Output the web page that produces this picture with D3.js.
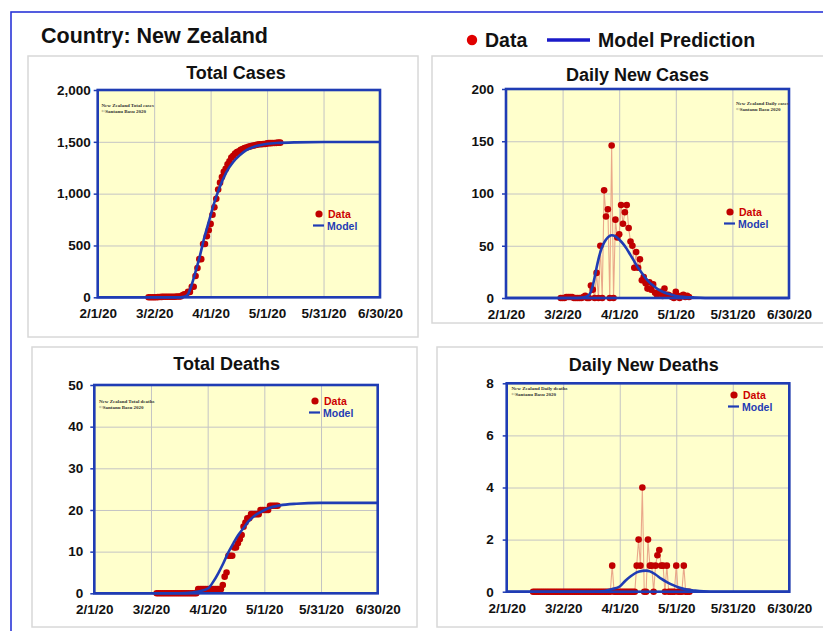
<!DOCTYPE html>
<html><head><meta charset="utf-8">
<script src="https://cdn.jsdelivr.net/npm/d3@7"></script>
<style>
body{margin:0;background:#fff;}
svg{display:block;font-family:"Liberation Sans",Arial,sans-serif;}
</style></head><body>
<svg id="c" width="823" height="631"></svg>
<script>
// ---------------- DATA ----------------
const country = "New Zealand";
const xTickDays = [0, 30, 60, 90, 120, 150];            // days since 2/1/20
const xTickLabels = ["2/1/20", "3/2/20", "4/1/20", "5/1/20", "5/31/20", "6/30/20"];
const panelTitles = ["Total Cases", "Daily New Cases", "Total Deaths", "Daily New Deaths"];
const watermarkLabels = ["Total cases", "Daily cases", "Total deaths", "Daily deaths"];

const yTicksTotalCases = [0, 500, 1000, 1500, 2000];
const yTicksDailyCases = [0, 50, 100, 150, 200];
const yTicksTotalDeaths = [0, 10, 20, 30, 40, 50];
const yTicksDailyDeaths = [0, 2, 4, 6, 8];

// Total cases, one value per day starting day 27 (2/28/20)
const totalCasesStart = 27;
const totalCases = [1,1,1,1,1,2,3,4,5,5, 5,5,5,5,6,8,8,8,20,28,
  28,52,52,102,102,205,283,368,368,514, 514,589,647,708,797,868,950,1039,1106,1160,
  1210,1239,1283,1312,1349,1366,1386,1401,1409,1422, 1431,1440,1445,1451,1456,1461,1464,1470,1473,1476,
  1477,1479,1479,1485,1487,1487,1488,1489,1490,1492, 1492];

// Daily new cases, starting day 29 (3/1/20)
const dailyCasesStart = 29;
const dailyCases = [0,0,0,1,1,1,1,0,0,0, 0,0,1,2,0,0,12,8,0,24,
  0,50,0,103,78,85,0,146,0,75, 58,61,89,71,82,89,67,54,50,29,
  44,29,37,17,20,14,9,15,8,13, 5,3,5,6,2,9,3,3,2,1, 0,6,2,0,2,3,1,2,1];

// Total deaths, starting day 33 (3/5/20)
const totalDeathsStart = 33;
const totalDeaths = [0,0,0,0,0,0,0,0,0,0, 0,0,0,0,0,0,0,0,0,0, 0,0,
  1,1,1,1,1,1,1,1,1,1,1,1,1,
  2,4,5,9,9,9,11,11,12,13, 14,16,17,18,18,19,19,19,19,19, 20,20,20,20,20,21,21,21,21,21];

// Daily new deaths, starting day 14 (2/15/20)
const dailyDeathsStart = 14;
const dailyDeaths = [0,0,0,0,0,0,0,0,0,0, 0,0,0,0,0,0,0,0,0,0, 0,0,0,0,0,0,0,0,0,0,
  0,0,0,0,0,0,0,0,0,0, 0,0,
  1,
  0,0,0,0,0,0,0,0,0,0,0,0,
  1,2,1,4,0,0,2,1,1,0, 1,1.4,1.6,1,1,0,1,0,0,0, 0,1,0,0,0,1,0,0,0];

// Model predictions (day since 2/1/20, value)
const totalCasesModelDays = [0,44,46,48,49.3,52,54.4,56.5,59,61.5,64.5,68.4,72,75.4,79,82.5,88,95,105,120,150];
const totalCasesModel     = [0,0,5,30,87,247,407,567,727,888,1048,1208,1305,1369,1420,1449,1475,1488,1495,1498,1498];

const dailyCasesModelDays = [0,38,42,44,45,46,47,48,49,50,52,54,56,58,60,62,64,66,68,70,72,74,76,78,80,83,86,90,95,100,110,150];
const dailyCasesModel     = [0,0,1,3,6,12,20,29,37,44,53,58,60,59,56,52,47,41,35,29,24,19,15,12,9,6,4,2,1,0.5,0,0];

const totalDeathsModelDays = [0,45,52,56,60.3,63,65.6,68.3,70.9,73.6,76.2,78.9,81.5,84.2,87.7,92.1,98.3,107,119.5,150];
const totalDeathsModel     = [0,0,0.2,0.5,1.2,2.8,4.8,7.2,9.8,12,14,15.6,17.2,18.4,19.4,20.4,21.1,21.5,21.7,21.7];

const dailyDeathsModelDays = [0,45,52,56,60,63,66,69,72,74,76,79,82,85,88,91,95,100,108,150];
const dailyDeathsModel     = [0,0,0.03,0.1,0.2,0.42,0.6,0.74,0.8,0.81,0.78,0.66,0.5,0.37,0.26,0.17,0.09,0.04,0,0];

// ---------------- LAYOUT ----------------
const C = {
  blue: "#1f3cb4", red: "#c00000", link: "#eaa88a", grid: "#c4c4c4",
  bg: "#ffffcc", panelStroke: "#d8d8d8", frame: "#2a35d8"
};
const layouts = [
  {box:[28,56,390,281], l:97.7, t:90, r:380, b:297.3, title:[236,79], legend:[319,214], wm:[101.5,107], yGap:7, xBase:318.3},
  {box:[432,56,400,267], l:506, t:89, r:789, b:298, title:[637.5,80.7], legend:[730,212], wm:[736,104.5], yGap:12, xBase:318.5},
  {box:[32,347,385,280], l:94.3, t:385, r:377.7, b:593.3, title:[226.7,370], legend:[315,401], wm:[99,402.5], yGap:11, xBase:614},
  {box:[437,347,400,280], l:506.7, t:383.3, r:789.3, b:591.7, title:[643.8,370.7], legend:[734,395], wm:[511.5,390], yGap:13, xBase:613}
];
const series = [
  {start:totalCasesStart, values:totalCases, yTicks:yTicksTotalCases, mDays:totalCasesModelDays, mVals:totalCasesModel, link:false},
  {start:dailyCasesStart, values:dailyCases, yTicks:yTicksDailyCases, mDays:dailyCasesModelDays, mVals:dailyCasesModel, link:true},
  {start:totalDeathsStart, values:totalDeaths, yTicks:yTicksTotalDeaths, mDays:totalDeathsModelDays, mVals:totalDeathsModel, link:false},
  {start:dailyDeathsStart, values:dailyDeaths, yTicks:yTicksDailyDeaths, mDays:dailyDeathsModelDays, mVals:dailyDeathsModel, link:true}
];

const svg = d3.select("#c");
svg.append("rect").attr("width",823).attr("height",631).attr("fill","#fff");
svg.append("rect").attr("x",11).attr("y",12).attr("width",840).attr("height",650)
  .attr("fill","none").attr("stroke",C.frame).attr("stroke-width",1.6);

// header
svg.append("text").attr("x",41).attr("y",43).attr("font-size",21.5).attr("font-weight","bold")
  .attr("fill","#111").text("Country: " + country);
svg.append("circle").attr("cx",472).attr("cy",40).attr("r",5.2).attr("fill","#e00000");
svg.append("text").attr("x",485).attr("y",47).attr("font-size",19.5).attr("font-weight","bold").attr("fill","#111").text("Data");
svg.append("line").attr("x1",547).attr("x2",590).attr("y1",40).attr("y2",40).attr("stroke","#1a1ac8").attr("stroke-width",3.5);
svg.append("text").attr("x",598).attr("y",47).attr("font-size",19.5).attr("font-weight","bold").attr("fill","#111").text("Model Prediction");

function drawPanel(L, S, i) {
  const g = svg.append("g");
  g.append("rect").attr("x",L.box[0]).attr("y",L.box[1]).attr("width",L.box[2]).attr("height",L.box[3])
    .attr("fill","#fff").attr("stroke",C.panelStroke).attr("stroke-width",1.5);

  const x = d3.scaleLinear().domain([xTickDays[0], xTickDays[xTickDays.length-1]]).range([L.l, L.r]);
  const y = d3.scaleLinear().domain([0, d3.max(S.yTicks)]).range([L.b, L.t]);

  g.append("rect").attr("x",L.l).attr("y",L.t).attr("width",L.r-L.l).attr("height",L.b-L.t).attr("fill",C.bg);

  // grid
  const gx = g.append("g").attr("transform",`translate(0,${L.b})`)
    .call(d3.axisBottom(x).tickValues(xTickDays).tickSize(-(L.b-L.t)).tickFormat(""));
  gx.select(".domain").remove();
  gx.selectAll("line").attr("stroke",C.grid).attr("stroke-width",1);
  const gy = g.append("g").attr("transform",`translate(${L.l},0)`)
    .call(d3.axisLeft(y).tickValues(S.yTicks).tickSize(-(L.r-L.l)).tickFormat(""));
  gy.select(".domain").remove();
  gy.selectAll("line").attr("stroke",C.grid).attr("stroke-width",1);

  // tick labels
  const fs = 13.5;
  const xa = g.append("g").attr("transform",`translate(0,${L.b})`)
    .call(d3.axisBottom(x).tickValues(xTickDays).tickSize(0)
      .tickPadding(L.xBase - L.b - 0.71*fs).tickFormat((d,k)=>xTickLabels[k]));
  xa.select(".domain").remove();
  xa.selectAll("text").attr("font-size",fs).attr("font-weight","bold").attr("fill","#111")
    .attr("font-family","'Liberation Sans',Arial,sans-serif");
  const ya = g.append("g").attr("transform",`translate(${L.l},0)`)
    .call(d3.axisLeft(y).tickValues(S.yTicks).tickSize(4).tickPadding(L.yGap-4).tickFormat(d3.format(",")));
  ya.select(".domain").remove();
  ya.selectAll("line").attr("stroke",C.blue).attr("stroke-width",1.5);
  ya.selectAll("text").attr("font-size",fs).attr("font-weight","bold").attr("fill","#111")
    .attr("font-family","'Liberation Sans',Arial,sans-serif");

  const pts = S.values.map((v,k)=>({d:S.start+k, v:v}));
  if (S.link) {
    g.append("path").datum(pts).attr("fill","none").attr("stroke",C.link).attr("stroke-width",1.1)
      .attr("d", d3.line().x(p=>x(p.d)).y(p=>y(p.v)));
  }
  g.append("g").selectAll("circle").data(pts).join("circle")
    .attr("cx",p=>x(p.d)).attr("cy",p=>y(p.v)).attr("r",3.3).attr("fill",C.red);

  const mp = S.mDays.map((d,k)=>({d:d, v:S.mVals[k]}));
  g.append("path").datum(mp).attr("fill","none").attr("stroke",C.blue).attr("stroke-width",2.6)
    .attr("d", d3.line().x(p=>x(p.d)).y(p=>y(p.v)).curve(d3.curveMonotoneX));

  g.append("rect").attr("x",L.l).attr("y",L.t).attr("width",L.r-L.l).attr("height",L.b-L.t)
    .attr("fill","none").attr("stroke",C.blue).attr("stroke-width",2.6);

  // title
  g.append("text").attr("x",L.title[0]).attr("y",L.title[1]).attr("text-anchor","middle")
    .attr("font-size",18).attr("font-weight","bold").attr("fill","#111").text(panelTitles[i]);

  // in-plot legend
  const [lx, ly] = L.legend;
  g.append("circle").attr("cx",lx).attr("cy",ly).attr("r",3.6).attr("fill",C.red);
  g.append("text").attr("x",lx+9).attr("y",ly+4).attr("font-size",10.5).attr("font-weight","bold")
    .attr("fill","#cc0000").text("Data");
  g.append("line").attr("x1",lx-6).attr("x2",lx+5).attr("y1",ly+11.5).attr("y2",ly+11.5)
    .attr("stroke",C.blue).attr("stroke-width",2.2);
  g.append("text").attr("x",lx+8).attr("y",ly+15.5).attr("font-size",10.5).attr("font-weight","bold")
    .attr("fill","#1f3cb4").text("Model");

  // watermark
  const wm = g.append("text").attr("font-family","'Liberation Serif',serif").attr("font-size",5)
    .attr("font-weight","bold").attr("fill","#333");
  wm.append("tspan").attr("x",L.wm[0]).attr("y",L.wm[1]).text(country + "  " + watermarkLabels[i]);
  wm.append("tspan").attr("x",L.wm[0]).attr("y",L.wm[1]+6.3).text("\u00A9Santanu  Basu 2020");
}

layouts.forEach((L,i)=>drawPanel(L, series[i], i));
</script>
</body></html>
